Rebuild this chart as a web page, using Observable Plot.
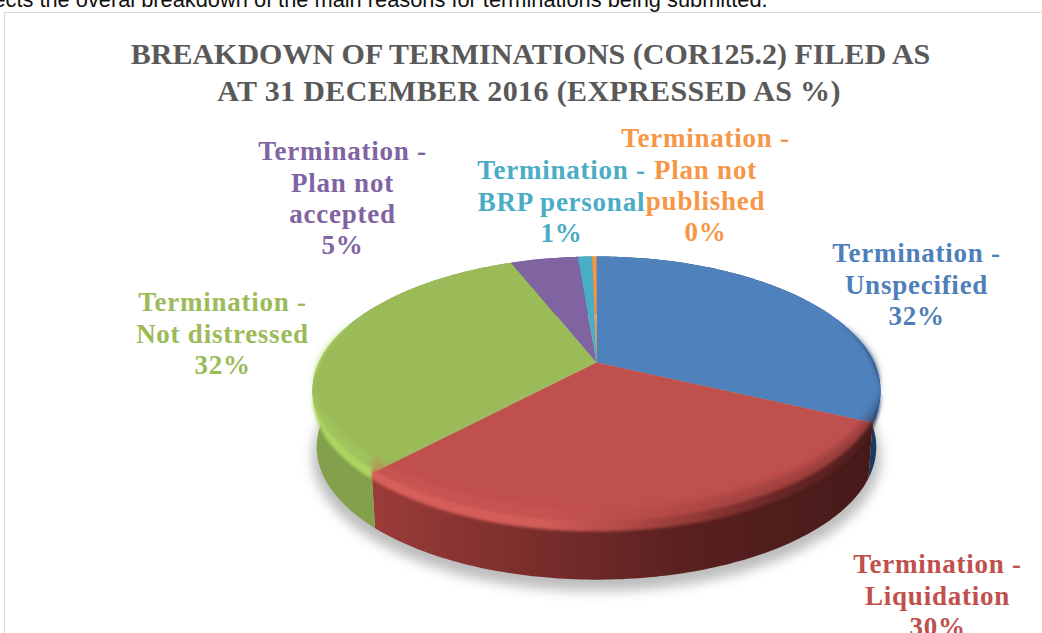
<!DOCTYPE html>
<html><head><meta charset="utf-8">
<script src="https://cdn.jsdelivr.net/npm/d3@7"></script>
<script src="https://cdn.jsdelivr.net/npm/@observablehq/plot@0.6"></script>
<style>
html,body{margin:0;padding:0;background:#fff;overflow:hidden}
.lbl text{letter-spacing:.75px}
.title2 text{letter-spacing:.36px}
</style></head><body><div id="chart"></div>
<script>
// ---- data ----
const categories = ["Termination -\nUnspecified","Termination -\nLiquidation","Termination -\nNot distressed","Termination -\nPlan not\naccepted","Termination -\nBRP personal","Termination -\nPlan not\npublished"];
const shares = [32, 30, 32, 4.7, 1, 0.3];
const colors = ["#4f81bd","#c0504d","#9bbb59","#8064a2","#4bacc6","#f79646"];
const labelColors = ["#4f7fbb","#c0504d","#9bbb59","#8064a2","#4bacc6","#f79646"];
const titleLines = ["BREAKDOWN OF TERMINATIONS (COR125.2) FILED AS","AT 31 DECEMBER 2016 (EXPRESSED AS %)"];
const bodyLine = "ects the overal breakdown of the main reasons for terminations being submitted.";

// ---- layout (page pixels), separate from the data ----
const labelSpots = [[916,259],[937,570],[222,308],[342,157],[561,176],[705,144]];
const labelSize = 27, labelLead = 31.2;
const K = 0.212, DROP = 0.44, SHRINK = 0.985;

// disc seen in perspective: the circle (u,v) is foreshortened by depth v
const place = (a, drop = 0, s = 1) => {
  const u = Math.sin(a), v = -Math.cos(a), w = 1 - K * v;
  return {x: s * u / w, y: s * v / w + drop};
};
const steps = (a0, a1) => d3.range(0, 1.0001, 1 / Math.max(2, Math.ceil((a1 - a0) * 60))).map(t => a0 + (a1 - a0) * t);
const arcPts = (a0, a1, drop, s) => steps(a0, a1).map(a => place(a, drop, s));
const pies = d3.pie().sort(null)(shares);
const face = p => [{x: 0, y: 0}, ...arcPts(p.startAngle, p.endAngle, 0, 1)];
const band = (p, d0, s0, d1, s1) => [...arcPts(p.startAngle, p.endAngle, d0, s0), ...arcPts(p.startAngle, p.endAngle, d1, s1).reverse()];
// rounded rim: thickest at the front, vanishing towards the back
const taper = a => Math.min(1, Math.max(0, (-Math.cos(a) + 0.35) / 0.85));
const rimArc = (p, d) => steps(p.startAngle, p.endAngle).map(a => place(a, d * taper(a), 1));
const rim = (p, up, down) => [...rimArc(p, -up), ...rimArc(p, down).reverse()];

const wallFills = ["#1b3a60","url(#wallRed)","#83a04c","#5d4778","#2e7f95","#b56d30"];
const rimFills = ["url(#rimBlue)","url(#rimRed)","#abd561","#8064a2","#4bacc6","#f79646"];

const defs = () => {
  const d = d3.create("svg:defs");
  const grad = (id, stops) => {
    const g = d.append("linearGradient").attr("id", id);
    stops.forEach(([o, c]) => g.append("stop").attr("offset", o).attr("stop-color", c));
  };
  grad("wallRed", [[0,"#9b3c39"],[.3,"#7c2f2d"],[.62,"#5a2120"],[1,"#451a19"]]);
  grad("rimRed", [[0,"#d85f5b"],[.35,"#d25c58"],[.55,"#a84441"],[.8,"#6c2826"],[1,"#4c1d1c"]]);
  grad("rimBlue", [[0,"#4f81bd"],[.8,"#4f81bd"],[1,"#1b3a60"]]);
  return d.node();
};
const poly = (pts, fill, extra = {}) => Plot.line(pts, {x: "x", y: "y", fill, stroke: "none", curve: "linear", ...extra});
const words = (s, size, fill, cx, base, cls, extra = {}) => Plot.text([s], {
  text: d => d, frameAnchor: "top-left", textAnchor: "middle", lineAnchor: "top",
  dx: cx, dy: base - 0.71 * size, fontSize: size, fill, fontWeight: "bold",
  fontFamily: "'Liberation Serif'", className: cls, ...extra
});

const plot = Plot.plot({
  width: 1042, height: 633, margin: 0,
  x: {domain: [-1, 1], range: [596 - 277.6, 596 + 277.6], axis: null},
  y: {domain: [-1, 1], range: [362 - 128.5, 362 + 128.5], axis: null},
  style: {background: "#fff"},
  marks: [
    defs,
    Plot.frame({stroke: "#d9d9d9", insetLeft: 4, insetTop: 12, insetRight: -5, insetBottom: -5}),
    // soft ground shadow
    poly(arcPts(0, 2 * Math.PI, DROP + 0.07, 1.0), "#bdbdbd", {imageFilter: "blur(6px)"}),
    // outer walls, the top, then the rounded rim over their joint
    ...pies.map((p, i) => poly(band(p, 0, 1, DROP, SHRINK), wallFills[i])),
    ...pies.map((p, i) => poly(face(p), colors[i])),
    ...pies.map((p, i) => poly(rim(p, 0.13, 0.02), rimFills[i], {fillOpacity: 0.35, imageFilter: "blur(3px)"})),
    ...pies.map((p, i) => poly(rim(p, 0.035, 0.045), rimFills[i], {imageFilter: "blur(1.5px)"})),
    // text
    words(bodyLine, 21.8, "#111", 380, 6, "body", {fontFamily: "'Liberation Sans'", fontWeight: "normal"}),
    words(titleLines[0], 30, "#595959", 530, 63, "title"),
    words(titleLines[1], 30, "#595959", 528.5, 100, "title2"),
    ...categories.map((c, i) => words(`${c}\n${Math.round(shares[i])}%`, labelSize, labelColors[i], labelSpots[i][0], labelSpots[i][1], "lbl", {lineHeight: labelLead / labelSize}))
  ]
});
document.getElementById("chart").append(plot);
</script></body></html>
